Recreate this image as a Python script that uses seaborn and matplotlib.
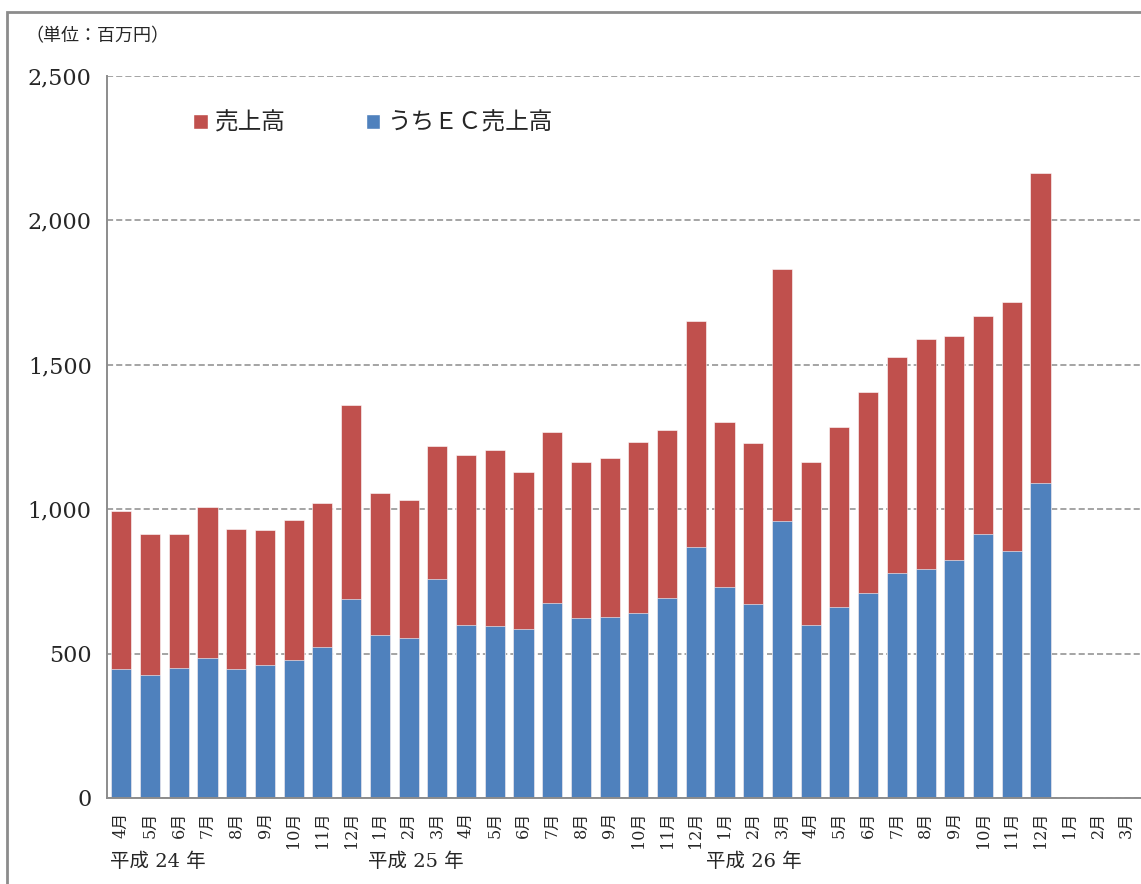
import numpy as np
import pandas as pd
import seaborn as sns
import matplotlib.pyplot as plt
from matplotlib.patches import Patch, Rectangle

# monthly sales (million yen), Apr H24 - Mar H27 (last three months not yet reported)
months = ['4月', '5月', '6月', '7月', '8月', '9月', '10月', '11月', '12月', '1月', '2月', '3月'] * 3
sales = [994, 914, 914, 1008, 931, 928, 963, 1021, 1361, 1056, 1032, 1219,
         1188, 1205, 1129, 1267, 1163, 1177, 1233, 1274, 1651, 1302, 1229, 1831,
         1163, 1286, 1406, 1526, 1590, 1600, 1669, 1717, 2165]
ec_sales = [447, 426, 450, 485, 447, 460, 478, 523, 689, 564, 554, 758,
            599, 596, 585, 675, 623, 627, 641, 693, 869, 731, 672, 959,
            599, 661, 710, 779, 793, 824, 914, 855, 1091]
years = ['平成 24 年', '平成 25 年', '平成 26 年']

RED = '#C0504D'
BLUE = '#4F81BD'
GRID = '#8C8C8C'

sns.set_style('white')
plt.rcParams['font.family'] = ['DejaVu Serif', 'Noto Sans CJK JP']

df = pd.DataFrame({'idx': range(len(sales)), 'sales': sales, 'ec': ec_sales})
order = list(range(len(months)))

fig = plt.figure(figsize=(11.41, 8.84), dpi=100)
ax = fig.add_axes([107 / 1141, 1 - 798 / 884, 1034 / 1141, 722 / 884])

sns.barplot(data=df, x='idx', y='sales', order=order, color=RED, saturation=1,
            width=0.7, edgecolor='white', linewidth=0.4, ax=ax)
sns.barplot(data=df, x='idx', y='ec', order=order, color=BLUE, saturation=1,
            width=0.7, edgecolor='white', linewidth=0.4, ax=ax)

ax.set_xlim(-0.5, len(months) - 0.5)
ax.set_ylim(0, 2500)
ax.set_xlabel('')
ax.set_ylabel('')

ax.set_yticks(np.arange(0, 2501, 500))
ax.set_yticklabels([f'{v:,}' for v in range(0, 2501, 500)], fontsize=16)
ax.yaxis.grid(True, linestyle=(0, (4, 2)), color=GRID, linewidth=1.1)
ax.set_axisbelow(True)

ax.set_xticks(order)
ax.set_xticklabels(months, rotation=90, fontsize=11.5)
ax.set_xticks(np.arange(-0.5, len(months), 1), minor=True)
ax.tick_params(axis='x', which='major', length=0, pad=10)
ax.tick_params(axis='x', which='minor', length=5, color=GRID, width=1.2)
ax.tick_params(axis='y', length=7, color=GRID, width=1.2, pad=4)

for s in ['top', 'right']:
    ax.spines[s].set_visible(False)
for s in ['left', 'bottom']:
    ax.spines[s].set_color(GRID)
    ax.spines[s].set_linewidth(1.4)

handles = [Patch(facecolor=RED, label='売上高'), Patch(facecolor=BLUE, label='うちＥＣ売上高')]
ax.legend(handles=handles, loc='upper left', bbox_to_anchor=(0.063, 0.98), ncol=2,
          frameon=False, fontsize=17, handlelength=0.6, handleheight=0.6,
          handletextpad=0.3, columnspacing=3.4)

fig.text(25 / 1141, 1 - 36 / 884, '（単位：百万円）', fontsize=13, va='center', ha='left')
for xpos, label in zip([110, 368, 706], years):
    fig.text(xpos / 1141, 1 - 862 / 884, label, fontsize=14, va='center', ha='left')

fig.add_artist(Rectangle((7 / 1141, -0.1), 1.2, 1 - 12 / 884 + 0.1, transform=fig.transFigure,
                         fill=False, edgecolor=GRID, linewidth=2))

fig.savefig('out.png', dpi=100)
